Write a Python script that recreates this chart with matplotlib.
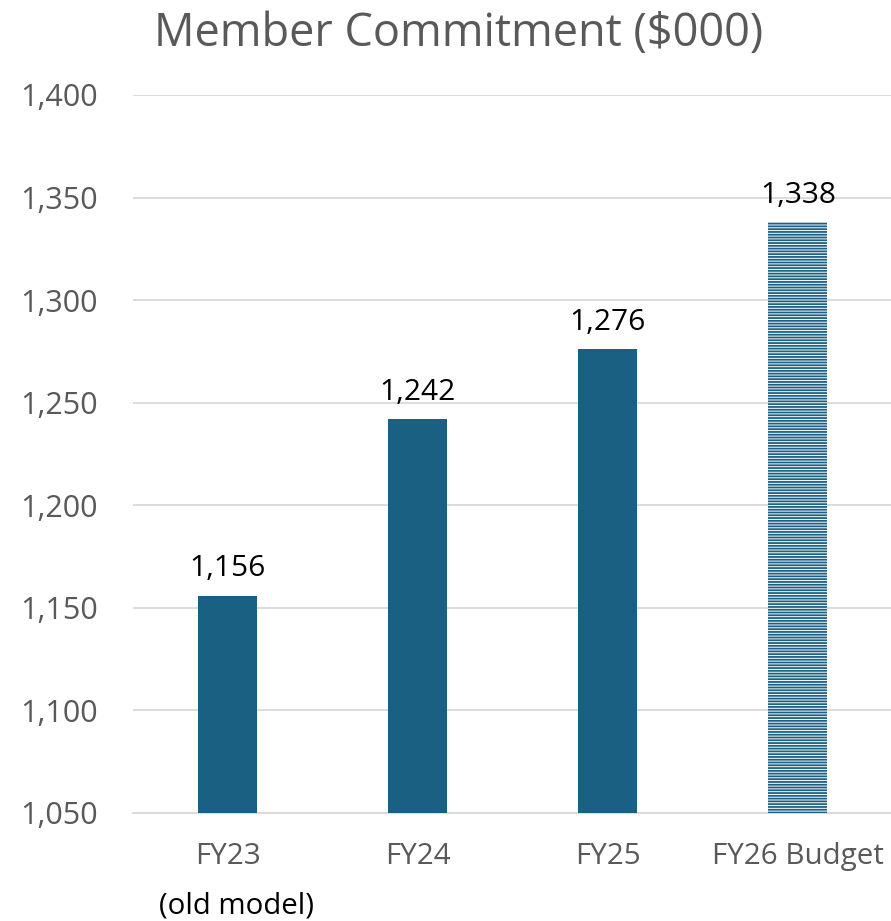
import matplotlib
matplotlib.use('Agg')
import matplotlib.pyplot as plt

# 데이터
categories = ['FY23', 'FY24', 'FY25', 'FY26 Budget']
values = [1156, 1242, 1276, 1338]
hatched = [False, False, False, True]
y_ticks = [1050, 1100, 1150, 1200, 1250, 1300, 1350, 1400]

bar_color = '#1A6083'
gray = '#595959'

plt.rcParams['font.family'] = ['Open Sans', 'DejaVu Sans']
plt.rcParams['hatch.linewidth'] = 1.3

fig = plt.figure(figsize=(8.91, 9.21), dpi=100)
ax = fig.add_axes([0.149, 0.1173, 0.853, 0.7796])

x = range(len(categories))
for i, v in enumerate(values):
    if hatched[i]:
        ax.bar(i, v - 1050, bottom=1050, width=0.31, facecolor='white',
               edgecolor=bar_color, linewidth=0, hatch='------', zorder=3)
    else:
        ax.bar(i, v - 1050, bottom=1050, width=0.31, color=bar_color, zorder=3)
    ax.annotate(f'{v:,}', (i, v), xytext=(0, 9), textcoords='offset points',
                ha='center', va='bottom', fontsize=21.5, color='black')

ax.set_xlim(-0.5, 3.5)
ax.set_ylim(1050, 1400)
ax.set_yticks(y_ticks)
ax.set_yticklabels([f'{t:,}' for t in y_ticks])
ax.set_xticks(list(x))
ax.set_xticklabels(categories)
ax.tick_params(axis='y', length=0, pad=25, labelsize=22, labelcolor=gray)
ax.tick_params(axis='x', length=0, pad=21, labelsize=21.3, labelcolor=gray)
ax.grid(axis='y', color='#D9D9D9', linewidth=1.3, zorder=0)
for s in ['top', 'right', 'left']:
    ax.spines[s].set_visible(False)
ax.spines['bottom'].set_color('#D9D9D9')
ax.spines['bottom'].set_linewidth(1.3)

fig.text(0.515, 0.963, 'Member Commitment ($000)', ha='center', va='center',
         fontsize=32.5, color=gray)
fig.text(0.265, 0.016, '(old model)', ha='center', va='center',
         fontsize=21.2, color='black')

fig.savefig('out.png', dpi=100)
